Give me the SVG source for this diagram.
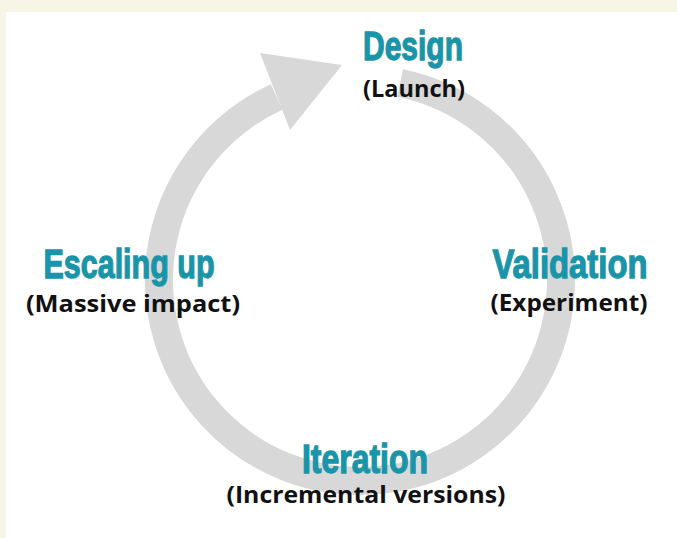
<svg xmlns="http://www.w3.org/2000/svg" width="677" height="538" viewBox="0 0 677 538">
  <style>
    .title { font-family: "Liberation Sans Narrow", "Liberation Sans", Arial, sans-serif; font-weight: bold; font-size: 41px; fill: #1a94a8; stroke: #1a94a8; stroke-width: 1.3; text-anchor: middle; }
    .sub { font-family: "Open Sans", "Noto Sans", "Liberation Sans", sans-serif; font-weight: bold; font-size: 23px; fill: #111111; text-anchor: middle; }
    .ring { fill: none; stroke: #d8d8d8; stroke-width: 28; stroke-linecap: butt; }
    .head { fill: #d8d8d8; }
  </style>
  <rect x="0" y="0" width="677" height="538" fill="#f7f6e6"/>
  <rect x="6" y="12" width="671" height="526" fill="#ffffff"/>
  <g id="connectors">
    <path class="ring" d="M 400.07 83.03 A 201 201 0 1 1 276.64 97.06"/>
    <polygon class="head" points="260,53 342,65 290,130"/>
  </g>
  <g id="node-design">
    <text class="title" x="413" y="60" textLength="100" lengthAdjust="spacingAndGlyphs">Design</text>
    <text class="sub" x="414" y="97" textLength="102" lengthAdjust="spacingAndGlyphs">(Launch)</text>
  </g>
  <g id="node-validation">
    <text class="title" x="570" y="278" textLength="155" lengthAdjust="spacingAndGlyphs">Validation</text>
    <text class="sub" x="569" y="311" textLength="157" lengthAdjust="spacingAndGlyphs">(Experiment)</text>
  </g>
  <g id="node-iteration">
    <text class="title" x="365" y="473" textLength="126" lengthAdjust="spacingAndGlyphs">Iteration</text>
    <text class="sub" x="366" y="503" textLength="279" lengthAdjust="spacingAndGlyphs">(Incremental versions)</text>
  </g>
  <g id="node-escaling">
    <text class="title" x="129" y="278" textLength="171" lengthAdjust="spacingAndGlyphs">Escaling up</text>
    <text class="sub" x="133" y="312" textLength="214" lengthAdjust="spacingAndGlyphs">(Massive impact)</text>
  </g>
</svg>
